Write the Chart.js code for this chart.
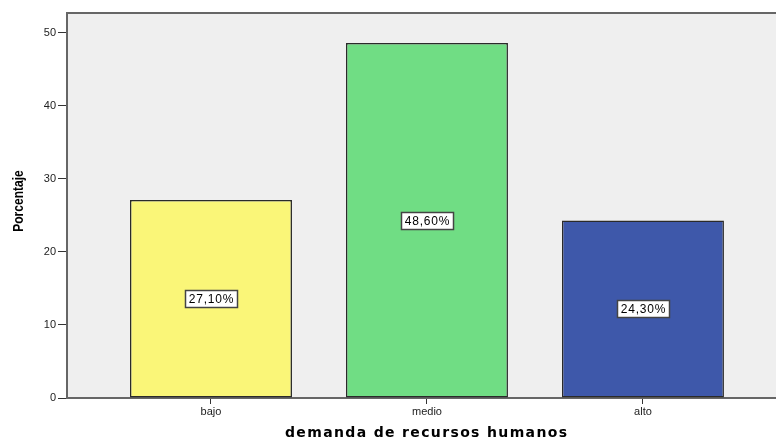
<!DOCTYPE html>
<html>
<head>
<meta charset="utf-8">
<script src="https://cdn.jsdelivr.net/npm/chart.js@4/dist/chart.umd.min.js"></script>
<style>
  html, body { margin: 0; padding: 0; background: #fff; overflow: hidden; }
  #wrap { width: 776px; height: 439px; }
</style>
</head>
<body>
<div id="wrap"><canvas id="chart" width="776" height="439"></canvas></div>
<script>
var categorias = ['bajo', 'medio', 'alto'];
var porcentajes = [27.1, 48.6, 24.3];
var etiquetas = ['27,10%', '48,60%', '24,30%'];
var yTicks = [0, 10, 20, 30, 40, 50];
var colores = ['#faf678', '#70dd84', '#3e58aa'];

var FONT = 'Arial, "Liberation Sans", sans-serif';

var puntos = categorias.map(function(c, i) { return { x: i + 1, y: porcentajes[i] }; });

var fondoPlugin = {
  id: 'fondo',
  beforeDraw: function(chart) {
    var a = chart.chartArea, ctx = chart.ctx;
    ctx.save();
    ctx.fillStyle = '#efefef';
    ctx.fillRect(a.left, a.top, a.right - a.left, a.bottom - a.top);
    ctx.strokeStyle = '#666';
    ctx.lineWidth = 2;
    ctx.beginPath(); ctx.moveTo(a.left, a.top); ctx.lineTo(a.right, a.top); ctx.stroke();
    ctx.restore();
  },
  afterDraw: function(chart) {
    var ctx = chart.ctx;
    ctx.save();
    // titulo eje y (algo condensado)
    ctx.fillStyle = '#000';
    ctx.font = 'bold 14px ' + FONT;
    ctx.textAlign = 'center'; ctx.textBaseline = 'middle';
    ctx.translate(19, 201);
    ctx.rotate(-Math.PI / 2);
    ctx.scale(0.86, 1);
    ctx.fillText('Porcentaje', 0, 0);
    ctx.restore();

    // titulo eje x, espaciado
    ctx.save();
    ctx.fillStyle = '#000';
    ctx.font = 'bold 14px "DejaVu Sans", Verdana, sans-serif';
    var txt = 'demanda de recursos humanos';
    var w = ctx.measureText(txt).width;
    var sp = Math.max(0, (282 - w) / (txt.length - 1));
    ctx.letterSpacing = sp + 'px';
    ctx.textAlign = 'left'; ctx.textBaseline = 'middle';
    ctx.fillText(txt, 426 - 141, 433);
    ctx.restore();

    // etiquetas de valores
    var meta = chart.getDatasetMeta(0);
    ctx.save();
    ctx.font = '12px ' + FONT;
    ctx.letterSpacing = '0.8px';
    ctx.textAlign = 'center'; ctx.textBaseline = 'middle';
    meta.data.forEach(function(bar, i) {
      var cy = (bar.y + bar.base) / 2;
      var tw = ctx.measureText(etiquetas[i]).width;
      var bw = Math.round(tw + 7), bh = 17;
      var bx = Math.round(bar.x - bw / 2) + 0.5, by = Math.round(cy - bh / 2) + 0.5;
      ctx.fillStyle = '#fff';
      ctx.fillRect(bx, by, bw, bh);
      ctx.strokeStyle = '#444';
      ctx.lineWidth = 1.5;
      ctx.strokeRect(bx, by, bw, bh);
      ctx.fillStyle = '#000';
      ctx.fillText(etiquetas[i], bar.x + 0.5, cy + 1);
    });
    ctx.restore();
  }
};

new Chart(document.getElementById('chart').getContext('2d'), {
  type: 'bar',
  data: {
    datasets: [{
      data: puntos,
      backgroundColor: colores,
      borderColor: '#2a2a2a',
      borderWidth: 1.5,
      borderSkipped: false,
      barPercentage: 0.75,
      categoryPercentage: 1
    }]
  },
  options: {
    responsive: false,
    animation: false,
    layout: { padding: { top: 13, right: 0, left: 0, bottom: 0 } },
    plugins: { legend: { display: false }, tooltip: { enabled: false } },
    scales: {
      x: {
        type: 'linear',
        offset: false,
        min: 1 / 3,
        max: 3.616,
        afterBuildTicks: function(scale) { scale.ticks = categorias.map(function(c, i) { return { value: i + 1 }; }); },
        afterFit: function(scale) { scale.height = 41; },
        ticks: {
          callback: function(v) { return categorias[v - 1]; },
          color: '#222', padding: 1,
          font: { size: 11, family: FONT },
          maxRotation: 0
        },
        grid: { drawOnChartArea: false, offset: false, tickLength: 6, color: '#333' },
        border: { color: '#666', width: 2 }
      },
      y: {
        min: 0,
        max: 52.7,
        afterBuildTicks: function(scale) { scale.ticks = yTicks.map(function(v) { return { value: v }; }); },
        afterFit: function(scale) { scale.width = 67; },
        ticks: { color: '#222', padding: 2, font: { size: 11, family: FONT } },
        grid: { drawOnChartArea: false, tickLength: 9, color: '#333' },
        border: { color: '#666', width: 2 }
      }
    }
  },
  plugins: [fondoPlugin]
});
</script>
</body>
</html>
